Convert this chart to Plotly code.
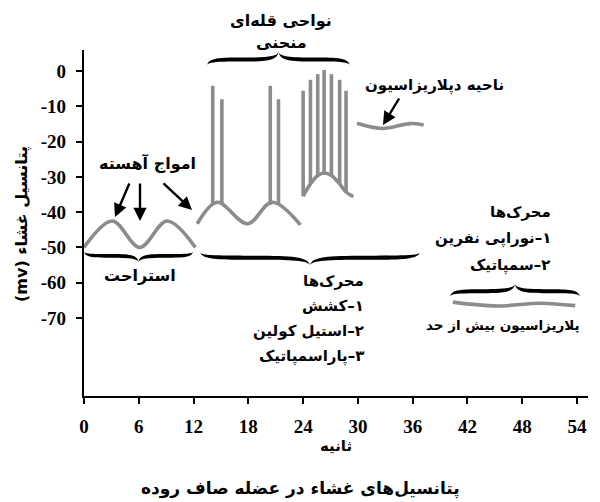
import plotly.graph_objects as go

# ---------------- data ----------------
x_ticks = [0, 6, 12, 18, 24, 30, 36, 42, 48, 54]
x_tick_labels = ["0", "6", "12", "18", "24", "30", "36", "42", "48", "54"]
y_ticks = [0, -10, -20, -30, -40, -50, -60, -70]
y_tick_labels = ["0", "-10", "-20", "-30", "-40", "-50", "-60", "-70"]

# slow waves (rest)
slow_t = [0, 3.1, 6.1, 9.1, 12.2]
slow_mv = [-50, -42.5, -50, -42.5, -50]

# slow waves carrying spikes
wave_t = [12.4, 14.6, 17.9, 20.6, 23.7]
wave_mv = [-43.3, -37.2, -43.3, -37.2, -43.6]

# spike potentials on the waves
spike_t = [14.1, 15.1, 20.4, 21.3]
spike_base = [-37.9, -37.9, -37.9, -37.9]
spike_top = [-4.2, -8.0, -4.2, -8.0]

# burst of spikes on a depolarised wave
burst_t = [24.0, 24.8, 25.6, 26.3, 27.1, 28.0, 28.7]
burst_base = [-35.5, -32.0, -29.6, -28.9, -29.6, -32.0, -34.3]
burst_top = [-5.6, -2.5, -0.9, 0.3, -0.9, -2.5, -5.6]
burst_tail_t = [29.5]
burst_tail_mv = [-35.6]

# depolarisation region
depol_t = [29.9, 32.7, 35.7, 37.2]
depol_mv = [-14.8, -16.3, -14.9, -15.3]

# hyperpolarisation
hyper_t = [40.4, 45.3, 50.0, 53.8]
hyper_mv = [-65.5, -66.6, -65.8, -66.5]

# ---------------- layout constants ----------------
OFF = 8                      # page body margin of the html page
W, H = 600 - OFF, 502 - OFF  # figure size
L, R, T, B = 84 - OFF, 12, 50 - OFF, 106
PW, PH = W - L - R, H - T - B
X_RANGE = [0, 55.2]
Y_RANGE = [-92.1, 5.95]

GRAY = "#8c8c8c"
LW = 3.6
FA = "DejaVu Sans"
RLE, PDF = "\u202B", "\u202C"


def pxx(px):  # page pixel -> paper
    return (px - OFF - L) / PW


def pyy(py):
    return (H - B - (py - OFF)) / PH


fig = go.Figure()


def add_curve(xs, ys):
    fig.add_trace(go.Scatter(x=xs, y=ys, mode="lines",
                             line=dict(color=GRAY, width=LW, shape="spline", smoothing=1.0),
                             hoverinfo="skip", showlegend=False))


def add_verticals(xs, y0s, y1s):
    vx, vy = [], []
    for x, a, b in zip(xs, y0s, y1s):
        vx += [x, x, None]
        vy += [a, b, None]
    fig.add_trace(go.Scatter(x=vx, y=vy, mode="lines",
                             line=dict(color=GRAY, width=LW),
                             hoverinfo="skip", showlegend=False))


add_curve(slow_t, slow_mv)
add_curve(wave_t, wave_mv)
add_verticals(spike_t, spike_base, spike_top)
add_curve(burst_t + burst_tail_t, burst_base + burst_tail_mv)
add_verticals(burst_t, burst_base, burst_top)
add_curve(depol_t, depol_mv)
add_curve(hyper_t, hyper_mv)


# ---------------- curly braces ----------------
def brace(x0, x1, y_end, y_tip, thick, body=0.55):
    depth = abs(y_tip - y_end)
    vb = body - thick / depth

    def P(u, v):
        px = x0 + u * (x1 - x0)
        py = y_end + v * (y_tip - y_end)
        return pxx(px), pyy(py)

    def segs(bv):
        return [
            [(0, 0), (0.02, bv), (0.08, bv + 0.02), (0.25, bv + 0.02)],
            [(0.25, bv + 0.02), (0.42, bv + 0.02), (0.49, bv + 0.1), (0.5, 1.0)],
            [(0.5, 1.0), (0.51, bv + 0.1), (0.58, bv + 0.02), (0.75, bv + 0.02)],
            [(0.75, bv + 0.02), (0.92, bv + 0.02), (0.98, bv), (1, 0)],
        ]

    A = segs(body)
    Bs = segs(vb)

    def f(pt):
        a, b = P(*pt)
        return f"{a:.5f},{b:.5f}"

    d = "M " + f(A[0][0])
    for s in A:
        d += " C " + f(s[1]) + " " + f(s[2]) + " " + f(s[3])
    for s in reversed(Bs):
        d += " C " + f(s[2]) + " " + f(s[1]) + " " + f(s[0])
    d += " Z"
    fig.add_shape(type="path", path=d, xref="paper", yref="paper",
                  fillcolor="black", line=dict(width=0), layer="above")


brace(207, 350, 65, 52, 4.0)
brace(84, 193, 252, 262, 3.6)
brace(200, 420, 253, 265, 4.2)
brace(450, 580, 296, 284, 4.0)


# ---------------- text ----------------
def text(s, px, py, size=15, anchor="center", bold=True, family=FA, angle=0):
    s = RLE + s + PDF
    fig.add_annotation(x=pxx(px), y=pyy(py), xref="paper", yref="paper",
                       text=f"<b>{s}</b>" if bold else s, showarrow=False,
                       xanchor=anchor, yanchor="middle", textangle=angle,
                       font=dict(family=family, size=size, color="black"))


def arrow(tx, ty, hx, hy):
    fig.add_annotation(x=pxx(hx), y=pyy(hy), xref="paper", yref="paper",
                       ax=tx - hx, ay=ty - hy, text="", showarrow=True,
                       arrowhead=2, arrowsize=1.1, arrowwidth=2.4,
                       arrowcolor="black", standoff=0)


text("نواحی قله‌ای", 281, 20, 16)
text("منحنی", 281, 43, 16)
text("امواج آهسته", 147, 163, 16)
arrow(130, 182, 115, 217)
arrow(140, 182, 140, 221)
arrow(162, 182, 192, 210)
text("ناحیه دپلاریزاسیون", 434, 85, 15)
arrow(400, 97, 383, 125)
text("استراحت", 140, 275, 16)

text("محرک‌ها", 366, 281, 15, anchor="right")
text("۱–کشش", 366, 306, 15, anchor="right")
text("۲–استیل کولین", 366, 331, 15, anchor="right")
text("۳–پاراسمپاتیک", 366, 356, 15, anchor="right")

text("محرک‌ها", 553, 212, 15, anchor="right")
text("۱–نوراپی نفرین", 553, 238, 15, anchor="right")
text("۲–سمپاتیک", 510, 265, 15)
text("پلاریزاسیون بیش از حد", 503, 325, 13.5)

text("ثانیه", 336, 446, 15)
text("پتانسیل‌های غشاء در عضله صاف روده", 300, 488, 17)
text("پتانسیل غشاء (mv)", 22, 224, 16, angle=-90)

# ---------------- axes ----------------
tick_font = dict(family="Liberation Serif", size=19, color="black", weight="bold")
common = dict(showline=True, linecolor="black", linewidth=2.2, ticks="outside",
              ticklen=6, tickwidth=2, tickcolor="black", showgrid=False, zeroline=False,
              tickfont=tick_font, ticklabelstandoff=6, fixedrange=True, automargin=False)
fig.update_xaxes(range=X_RANGE, tickmode="array", tickvals=x_ticks, ticktext=x_tick_labels, **common)
fig.update_yaxes(range=Y_RANGE, tickmode="array", tickvals=y_ticks, ticktext=y_tick_labels, **common)

fig.update_layout(width=W, height=H, margin=dict(l=L, r=R, t=T, b=B, pad=0, autoexpand=False),
                  paper_bgcolor="white", plot_bgcolor="white", showlegend=False)

fig.write_html("out.html")
